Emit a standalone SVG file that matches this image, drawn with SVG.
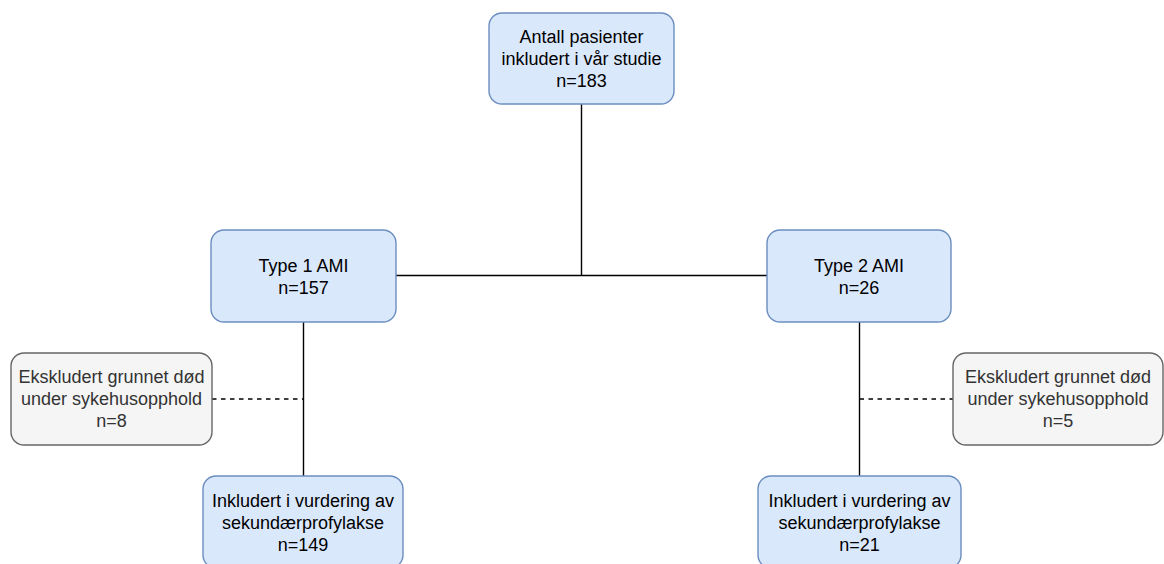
<svg xmlns="http://www.w3.org/2000/svg" width="1164" height="564" viewBox="0 0 1164 564">
<style>
.blue{fill:#dae8fc;stroke:#6c8ebf;stroke-width:1.4}
.grey{fill:#f5f5f5;stroke:#666666;stroke-width:1.4}
text{font-family:"Liberation Sans",Arial,sans-serif;font-size:18px;text-anchor:middle;fill:#000}
.g text{fill:#333333}
.ln{stroke:#000;stroke-width:1.4;fill:none}
.dash{stroke-dasharray:4.5 4.5}
</style>
<rect width="1164" height="564" fill="#ffffff"/>
<g id="connectors">
<path class="ln" d="M581.5 104V275.5M396 275.5H767"/>
<path class="ln" d="M303.5 322V476"/>
<path class="ln" d="M859.5 322V476"/>
<path class="ln dash" d="M212 399H303.5"/>
<path class="ln dash" d="M859.5 399H953"/>
</g>
<g id="total">
<rect class="blue" x="489" y="13" width="185" height="91" rx="13"/>
<text x="581.5" y="43">Antall pasienter</text>
<text x="581.5" y="65">inkludert i vår studie</text>
<text x="581.5" y="87">n=183</text>
</g>
<g id="type1">
<rect class="blue" x="211" y="230" width="185" height="92" rx="13"/>
<text x="303.5" y="272">Type 1 AMI</text>
<text x="303.5" y="294">n=157</text>
</g>
<g id="type2">
<rect class="blue" x="767" y="230" width="184" height="92" rx="13"/>
<text x="859" y="272">Type 2 AMI</text>
<text x="859" y="294">n=26</text>
</g>
<g id="excl1" class="g">
<rect class="grey" x="11" y="353" width="201" height="92" rx="13"/>
<text x="111.5" y="383">Ekskludert grunnet død</text>
<text x="111.5" y="405">under sykehusopphold</text>
<text x="111.5" y="427">n=8</text>
</g>
<g id="excl2" class="g">
<rect class="grey" x="953" y="353" width="210" height="92" rx="13"/>
<text x="1058" y="383">Ekskludert grunnet død</text>
<text x="1058" y="405">under sykehusopphold</text>
<text x="1058" y="427">n=5</text>
</g>
<g id="incl1">
<rect class="blue" x="203" y="476" width="200" height="92" rx="13"/>
<text x="303" y="507">Inkludert i vurdering av</text>
<text x="303" y="529">sekundærprofylakse</text>
<text x="303" y="551">n=149</text>
</g>
<g id="incl2">
<rect class="blue" x="758" y="476" width="203" height="92" rx="13"/>
<text x="859.5" y="507">Inkludert i vurdering av</text>
<text x="859.5" y="529">sekundærprofylakse</text>
<text x="859.5" y="551">n=21</text>
</g>
</svg>
